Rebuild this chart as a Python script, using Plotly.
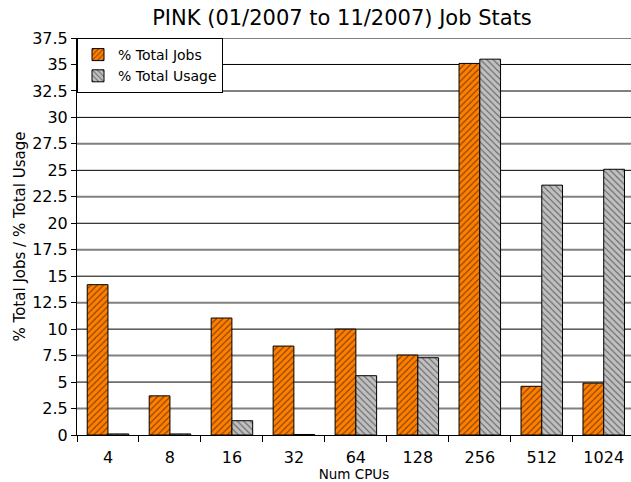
import plotly.graph_objects as go

# Job statistics per CPU-count bucket
num_cpus = ["4", "8", "16", "32", "64", "128", "256", "512", "1024"]
pct_total_jobs = [14.2, 3.7, 11.05, 8.4, 10.0, 7.55, 35.1, 4.6, 4.9]
pct_total_usage = [0.1, 0.1, 1.35, 0.05, 5.6, 7.3, 35.5, 23.6, 25.1]

y_ticks = [i * 2.5 for i in range(16)]
y_tick_text = [("%g" % v) for v in y_ticks]

FONT = "DejaVu Sans"

fig = go.Figure()
fig.add_trace(go.Bar(
    name="% Total Jobs", x=num_cpus, y=pct_total_jobs,
    marker=dict(color="#FF7F00", line=dict(color="black", width=1),
                pattern=dict(shape="/", fgcolor="black", bgcolor="#FF7F00",
                             size=4.5, solidity=0.25)),
))
fig.add_trace(go.Bar(
    name="% Total Usage", x=num_cpus, y=pct_total_usage,
    marker=dict(color="#C0C0C0", line=dict(color="black", width=1),
                pattern=dict(shape="\\", fgcolor="black", bgcolor="#C0C0C0",
                             size=4.5, solidity=0.25)),
))

# alternating grid: black on multiples of 5, grey on the half steps
shapes = []
for v in y_ticks[1:]:
    major = abs(v % 5) < 1e-9
    shapes.append(dict(type="line", xref="paper", x0=0, x1=1, yref="y", y0=v, y1=v,
                       line=dict(color="black" if major else "#808080",
                                 width=1 if major else 2),
                       layer="below"))

fig.update_layout(
    width=631, height=482,
    margin=dict(l=77, r=0, t=38, b=47),
    paper_bgcolor="white", plot_bgcolor="white",
    font=dict(family=FONT, color="black"),
    title=dict(text="PINK (01/2007 to 11/2007) Job Stats", x=0.542, xanchor="center",
               y=0.963, yanchor="middle", font=dict(size=21, family=FONT)),
    barmode="group", bargap=0.33, bargroupgap=0,
    shapes=shapes,
    legend=dict(x=0.0, y=1.0, xanchor="left", yanchor="top",
                bgcolor="white", bordercolor="black", borderwidth=1,
                font=dict(size=14, family=FONT), tracegroupgap=0,
                itemwidth=30),
    xaxis=dict(range=[-0.5, 8.44], showline=True, linecolor="black", linewidth=1,
               ticks="outside", tickson="boundaries", ticklen=6, tickcolor="black",
               tickfont=dict(size=16), ticklabelstandoff=8,
               title=dict(text="Num CPUs", font=dict(size=13.5), standoff=0)),
    yaxis=dict(range=[0, 37.5], tickvals=y_ticks, ticktext=y_tick_text,
               showgrid=False, showline=True, linecolor="black", linewidth=1,
               ticks="outside", ticklen=5, tickcolor="black",
               tickfont=dict(size=16), zeroline=False,
               title=dict(text="% Total Jobs / % Total Usage", font=dict(size=15),
                          standoff=2)),
)

fig.write_html("out.html")
